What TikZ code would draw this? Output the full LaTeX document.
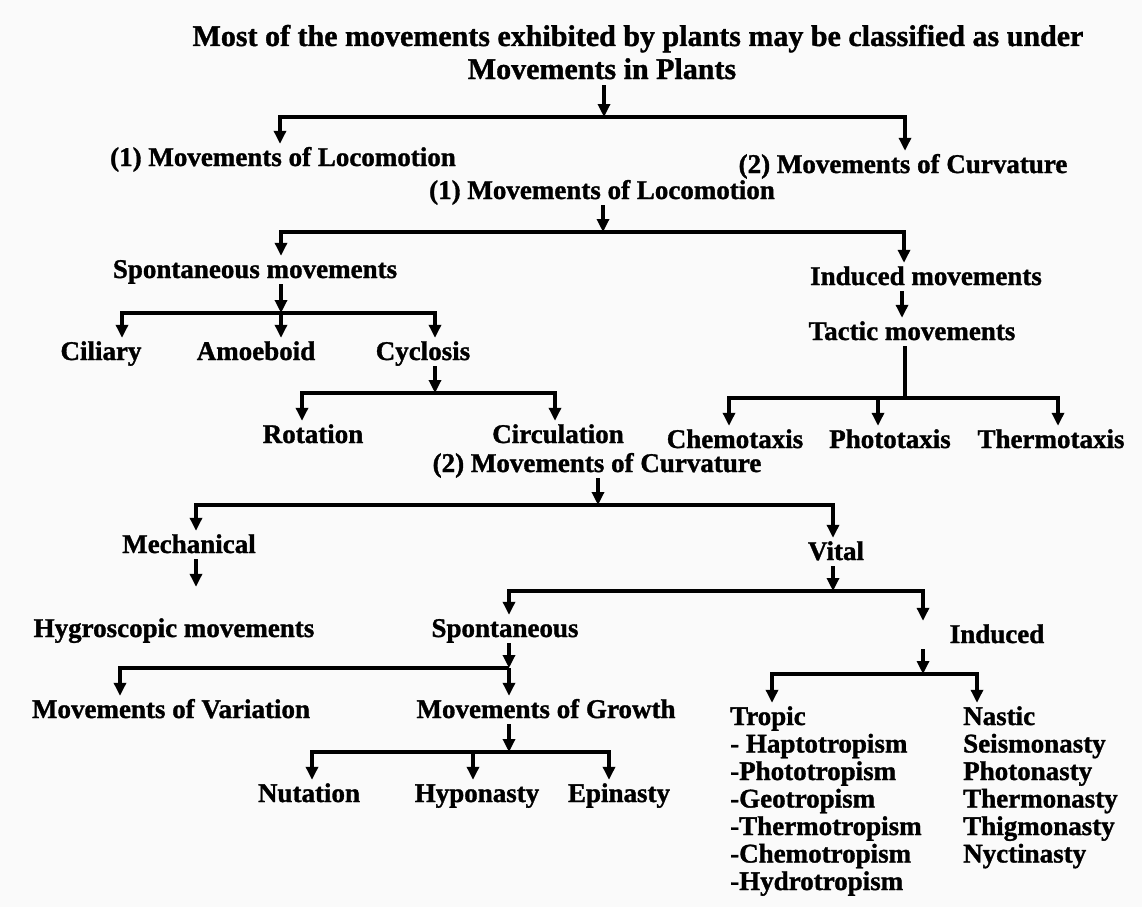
\documentclass[tikz,border=0pt]{standalone}
\usepackage{fontspec}
\setmainfont{Liberation Serif}[BoldFeatures={FakeBold=1.2}]
\usetikzlibrary{arrows.meta}

\tikzset{
  lbl/.style={font=\fontsize{27}{27.5}\selectfont\bfseries, text height=18pt, text depth=2pt,
    inner xsep=0pt, inner ysep=4pt, anchor=base},
  ttl/.style={lbl, font=\fontsize{30}{31}\selectfont\bfseries},
  lst/.style={lbl, anchor=base west},
  arr/.style={line width=3.2pt, -{Triangle[length=13pt,width=12pt]}},
  bar/.style={line width=3.2pt}
}

\begin{document}
\begin{tikzpicture}[x=1pt,y=-1pt]
\useasboundingbox[fill=white!98!black] (0,0) rectangle (1142,907);
% titolo
\node[ttl] (t1) at (638,46) {Most of the movements exhibited by plants may be classified as under};
\node[ttl] (t2) at (602,79) {Movements in Plants};
\coordinate (j1) at (604,117);
\draw[arr] (t2.south -| j1) -- (j1);
% primo livello
\node[lbl] (loc1) at (283,166) {(1) Movements of Locomotion};
\node[lbl] (cur1) at (903,173) {(2) Movements of Curvature};
\draw[arr] (j1) -| ([xshift=-3pt]loc1.north);
\draw[arr] (j1) -| ([xshift=2pt]cur1.north);
% locomozione
\node[lbl] (loc2) at (602,199) {(1) Movements of Locomotion};
\coordinate (j2) at (603,232);
\draw[arr] (loc2.south -| j2) -- (j2);
\node[lbl] (spm) at (255,278) {Spontaneous movements};
\node[lbl] (inm) at (926,285) {Induced movements};
\draw[arr] (j2) -| ([xshift=26pt]spm.north);
\draw[arr] (j2) -| ([xshift=-22pt]inm.north);
% movimenti spontanei
\coordinate (j4) at (281,313);
\draw[arr] (spm.south -| j4) -- (j4);
\node[lbl] (cil) at (101,360) {Ciliary};
\node[lbl] (amo) at (256,360) {Amoeboid};
\node[lbl] (cyc) at (423,360) {Cyclosis};
\draw[arr] (j4) -| ([xshift=21pt]cil.north);
\draw[arr] (j4) -| ([xshift=25pt]amo.north);
\draw[arr] (j4) -| ([xshift=12pt]cyc.north);
% ciclosi
\coordinate (j5) at (435,393);
\draw[arr] (cyc.south -| j5) -- (j5);
\node[lbl] (rot) at (313,443) {Rotation};
\node[lbl] (cir) at (558,443) {Circulation};
\draw[arr] (j5) -| ([xshift=-11pt]rot.north);
\draw[arr] (j5) -| ([xshift=-3pt]cir.north);
% movimenti indotti
\node[lbl] (tac) at (912,340) {Tactic movements};
\draw[arr] ([xshift=-24pt]inm.south) -- ([xshift=-10pt]tac.north);
\coordinate (j3) at (905,398);
\draw[bar] (tac.south -| j3) -- (j3);
\node[lbl] (che) at (735,448) {Chemotaxis};
\node[lbl] (pho) at (890,448) {Phototaxis};
\node[lbl] (the) at (1051,448) {Thermotaxis};
\draw[arr] (j3) -| ([xshift=-6pt]che.north);
\draw[arr] (j3) -| ([xshift=-12pt]pho.north);
\draw[arr] (j3) -| ([xshift=7pt]the.north);
% curvatura
\node[lbl] (cur2) at (597,472) {(2) Movements of Curvature};
\coordinate (j6) at (598,505);
\draw[arr] (cur2.south -| j6) -- (j6);
\node[lbl] (mec) at (189,553) {Mechanical};
\node[lbl] (vit) at (836,560) {Vital};
\draw[arr] (j6) -| ([xshift=7pt]mec.north);
\draw[arr] (j6) -| ([xshift=-3pt]vit.north);
% meccanici
\node[lbl] (hyg) at (174,637) {Hygroscopic movements};
\draw[arr, shorten >=28pt] ([xshift=7pt]mec.south) -- ([xshift=22pt]hyg.north);
% vitali
\coordinate (j7) at (833,591);
\draw[arr] (vit.south -| j7) -- (j7);
\node[lbl] (spo) at (505,637) {Spontaneous};
\node[lbl] (ind) at (997,643) {Induced};
\draw[arr] (j7) -| ([xshift=4pt]spo.north);
\draw[arr] (j7) -| ([xshift=-74pt]ind.north);
% spontanei
\coordinate (j8) at (509,668);
\draw[arr] (spo.south -| j8) -- (j8);
\node[lbl] (var) at (171,718) {Movements of Variation};
\node[lbl] (gro) at (546,718) {Movements of Growth};
\draw[arr] (j8) -| ([xshift=-51pt]var.north);
\draw[arr] (j8) -| ([xshift=-37pt]gro.north);
% crescita
\coordinate (j10) at (509,752);
\draw[arr] (gro.south -| j10) -- (j10);
\node[lbl] (nut) at (309,802) {Nutation};
\node[lbl] (hyp) at (477,802) {Hyponasty};
\node[lbl] (epi) at (619,802) {Epinasty};
\draw[arr] (j10) -| ([xshift=3pt]nut.north);
\draw[arr] (j10) -| ([xshift=-4pt]hyp.north);
\draw[arr] (j10) -| ([xshift=-10pt]epi.north);
% indotti
\coordinate (j9) at (923,674);
\draw[arr] (ind.south -| j9) -- (j9);
\node[lst] (tro) at (730,725) {Tropic};
\node[lst] (nas) at (963,725) {Nastic};
\draw[arr] (j9) -| ([xshift=42pt]tro.north west);
\draw[arr] (j9) -| ([xshift=14pt]nas.north west);
% tropismi
\node[lst] (tr1) at (730,752.5) {- Haptotropism};
\node[lst] (tr2) at (730,780) {-Phototropism};
\node[lst] (tr3) at (730,807.5) {-Geotropism};
\node[lst] (tr4) at (730,835) {-Thermotropism};
\node[lst] (tr5) at (730,862.5) {-Chemotropism};
\node[lst] (tr6) at (730,890) {-Hydrotropism};
% nastie
\node[lst] (na1) at (963,752.5) {Seismonasty};
\node[lst] (na2) at (963,780) {Photonasty};
\node[lst] (na3) at (963,807.5) {Thermonasty};
\node[lst] (na4) at (963,835) {Thigmonasty};
\node[lst] (na5) at (963,862.5) {Nyctinasty};
\end{tikzpicture}
\end{document}
